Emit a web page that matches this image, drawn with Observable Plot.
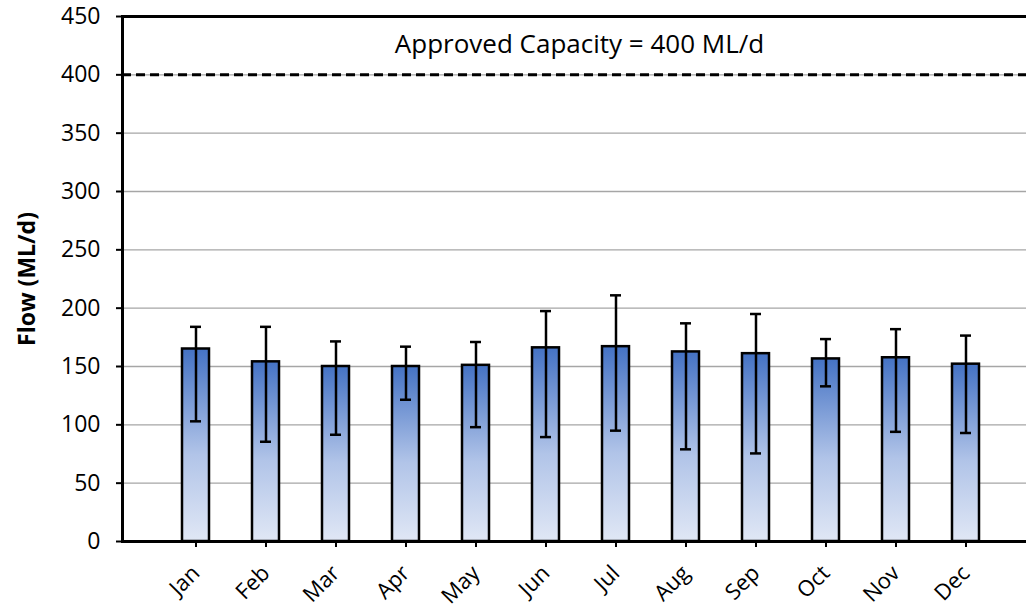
<!DOCTYPE html>
<html>
<head>
<meta charset="utf-8">
<script src="https://cdn.jsdelivr.net/npm/d3@7"></script>
<script src="https://cdn.jsdelivr.net/npm/@observablehq/plot@0.6"></script>
<style>
  html, body { margin: 0; padding: 0; background: #fff; }
  svg { display: block; }
</style>
</head>
<body>
<div id="chart"></div>
<script>
const months = ["Jan", "Feb", "Mar", "Apr", "May", "Jun", "Jul", "Aug", "Sep", "Oct", "Nov", "Dec"];
const meanFlow = [165, 154, 150, 150, 151, 166, 167, 162.5, 161, 156.5, 157.5, 152];
const maxFlow = [184, 184, 171.5, 167, 171, 197.5, 211, 187, 195, 173.5, 182, 176.5];
const minFlow = [103, 85.5, 91.5, 121.5, 98, 89.5, 95, 79, 75.5, 133, 94, 93];
const capacity = 400;
const capacityLabel = "Approved Capacity = 400 ML/d";
const yLabel = "Flow (ML/d)";
const yTicks = [0, 50, 100, 150, 200, 250, 300, 350, 400, 450];

const data = months.map((m, i) => ({month: m, mean: meanFlow[i], lo: minFlow[i], hi: maxFlow[i]}));

const plot = Plot.plot({
  width: 1026,
  height: 608,
  marginLeft: 122,
  marginRight: 0,
  marginTop: 16,
  marginBottom: 67,
  style: {fontFamily: "'Open Sans', sans-serif", fontSize: "22px", color: "#000", background: "#fff"},
  x: {type: "band", domain: months, range: [180.5, 980.8], paddingInner: 0.616, paddingOuter: 0, label: null},
  y: {domain: [0, 450], label: null},
  marks: [
    Plot.gridY(yTicks.filter(d => d > 0 && d < 450), {stroke: "#a6a6a6", strokeOpacity: 1, strokeWidth: 1.3}),
    Plot.ruleY([capacity], {stroke: "#000", strokeWidth: 3, strokeDasharray: "9,5"}),
    Plot.barY(data, {x: "month", y: "mean", fill: "url(#barGrad)", stroke: "#000", strokeWidth: 2.5}),
    Plot.ruleX(data, {x: "month", y1: "lo", y2: "hi", stroke: "#000", strokeWidth: 2.5}),
    Plot.tickY(data, {x: "month", y: "lo", stroke: "#000", strokeWidth: 2.5, insetLeft: 8, insetRight: 8}),
    Plot.tickY(data, {x: "month", y: "hi", stroke: "#000", strokeWidth: 2.5, insetLeft: 8, insetRight: 8}),
    Plot.axisY({ticks: yTicks, tickSize: 6, tickPadding: 16, strokeWidth: 2, fontSize: 23, label: null}),
    Plot.axisX({tickSize: 6, tickPadding: 22, tickRotate: -45, strokeWidth: 2, fontSize: 22, label: null}),
    Plot.frame({anchor: "left", stroke: "#000", strokeWidth: 3}),
    Plot.frame({anchor: "top", stroke: "#000", strokeWidth: 3}),
    Plot.frame({anchor: "bottom", stroke: "#000", strokeWidth: 3}),
    Plot.text([capacityLabel], {frameAnchor: "top", lineAnchor: "middle", dy: 28, dx: 5, fontSize: 26, fill: "#000"}),
    Plot.text([yLabel], {frameAnchor: "left", textAnchor: "middle", lineAnchor: "middle", dx: -95, rotate: -90, fontWeight: "bold", fontSize: 23, fill: "#000"})
  ]
});

d3.select(plot).insert("defs", ":first-child").html(`
  <linearGradient id="barGrad" x1="0" y1="0" x2="0" y2="1">
    <stop offset="0%" stop-color="#4472c4"/>
    <stop offset="55%" stop-color="#b1c4e8"/>
    <stop offset="100%" stop-color="#e0e7f5"/>
  </linearGradient>`);

document.getElementById("chart").appendChild(plot);
</script>
</body>
</html>
